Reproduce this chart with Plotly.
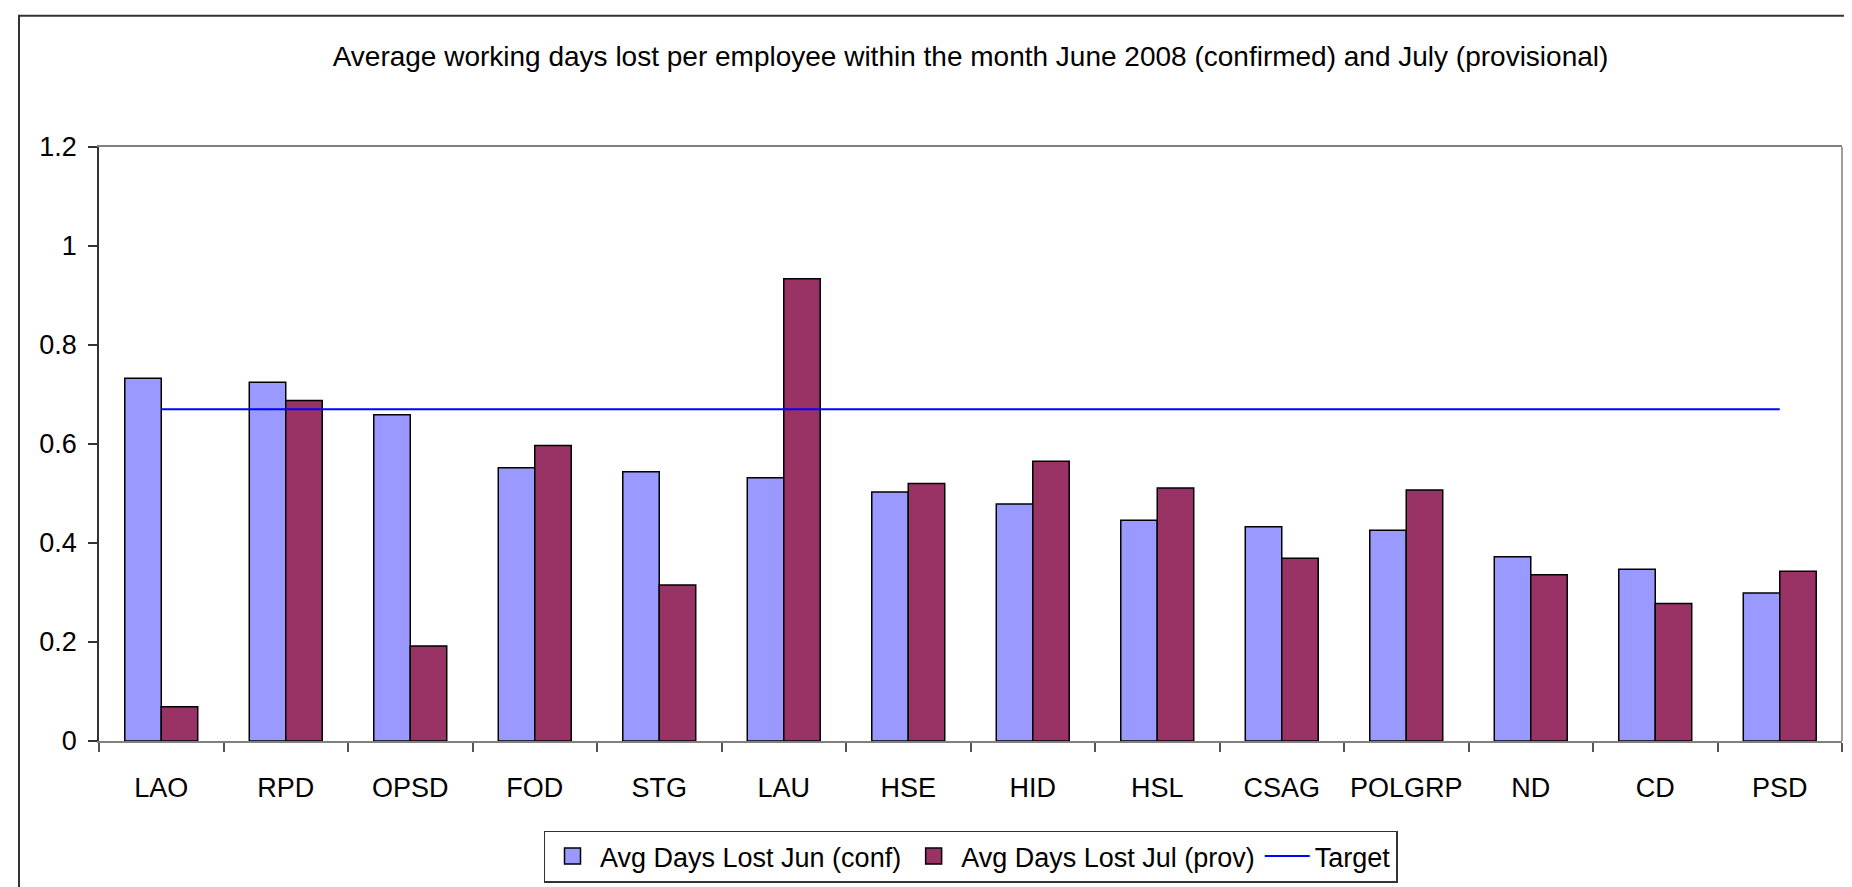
import plotly.graph_objects as go

categories = ["LAO", "RPD", "OPSD", "FOD", "STG", "LAU", "HSE", "HID", "HSL",
              "CSAG", "POLGRP", "ND", "CD", "PSD"]
jun_conf = [0.733, 0.725, 0.659, 0.552, 0.544, 0.532, 0.503, 0.479, 0.446,
            0.433, 0.426, 0.372, 0.347, 0.299]
jul_prov = [0.069, 0.688, 0.192, 0.597, 0.315, 0.934, 0.520, 0.565, 0.511,
            0.369, 0.507, 0.336, 0.278, 0.343]
target = [0.67, 0.67, 0.67, 0.67, 0.67, 0.67, 0.67, 0.67, 0.67,
          0.67, 0.67, 0.67, 0.67, 0.67]
y_ticks = [0, 0.2, 0.4, 0.6, 0.8, 1, 1.2]
y_tick_labels = ["0", "0.2", "0.4", "0.6", "0.8", "1", "1.2"]
series_names = ["Avg Days Lost Jun (conf)", "Avg Days Lost Jul (prov)", "Target"]
series_colors = ["#9999FF", "#993366", "#0000FF"]

FONT = "Liberation Sans, Arial, sans-serif"

fig = go.Figure()
fig.add_trace(go.Bar(
    x=categories, y=jun_conf, name=series_names[0], showlegend=False,
    legendgroup="jun",
    marker=dict(color=series_colors[0], line=dict(color="#000000", width=1.5)),
))
fig.add_trace(go.Bar(
    x=categories, y=jul_prov, name=series_names[1], showlegend=False,
    legendgroup="jul",
    marker=dict(color=series_colors[1], line=dict(color="#000000", width=1.5)),
))
# legend entries with larger rectangular swatches
for name, color, grp in [(series_names[0], series_colors[0], "jun"),
                         (series_names[1], series_colors[1], "jul")]:
    fig.add_trace(go.Scatter(
        x=[None], y=[None], mode="markers", name=name, legendgroup=grp,
        marker=dict(symbol="square", size=16, color=color,
                    line=dict(color="#000000", width=1.5)),
    ))
fig.add_trace(go.Scatter(
    x=categories, y=target, name=series_names[2], mode="lines",
    line=dict(color=series_colors[2], width=2),
))

W, H = 1852, 887
L, R, T, B = 91, 18, 139, 151
pw = W - L - R
ph = H - T - B

fig.update_layout(
    width=W, height=H,
    margin=dict(l=L, r=R, t=T, b=B),
    paper_bgcolor="white", plot_bgcolor="white",
    font=dict(family=FONT, size=27, color="black"),
    barmode="group", bargap=0.414, bargroupgap=0,
    title=dict(
        text="Average working days lost per employee within the month June 2008 (confirmed) and July (provisional)",
        x=0.5, xanchor="center", xref="paper",
        y=1 - 48 / H, yanchor="middle", yref="container",
        font=dict(family=FONT, size=28, color="black"),
    ),
    showlegend=True,
    legend=dict(
        orientation="h", x=0.5, xanchor="center",
        y=-(826 - (T + ph)) / ph, yanchor="top",
        bordercolor="#333333", borderwidth=1.5, bgcolor="white",
        font=dict(family=FONT, size=27, color="black"),
        traceorder="normal", itemwidth=45, itemsizing="trace",
    ),
    xaxis=dict(
        type="category", showgrid=False, showline=True, linecolor="#808080",
        linewidth=1.5, mirror=True, ticks="outside", tickson="boundaries",
        ticklen=9, tickcolor="#555555", tickwidth=1.5,
        ticklabelstandoff=22, tickfont=dict(family=FONT, size=27),
    ),
    yaxis=dict(
        range=[0, 1.2], tickvals=y_ticks, ticktext=y_tick_labels,
        showgrid=False, zeroline=False, showline=True, linecolor="#333333",
        linewidth=1.5, ticks="outside", ticklen=9, tickcolor="#333333",
        tickwidth=1.5, ticklabelstandoff=6, tickfont=dict(family=FONT, size=27),
    ),
)

# plot-area right border (grey) and outer chart frame
fig.add_shape(type="line", xref="paper", yref="paper", x0=1, x1=1, y0=0, y1=1,
              line=dict(color="#A0A0A0", width=2))
fig.add_shape(type="rect", xref="paper", yref="paper",
              x0=(11 - L) / pw, x1=(1850 - L) / pw,
              y0=-(H + 20 - (T + ph)) / ph, y1=((T + ph) - 7) / ph,
              line=dict(color="#333333", width=2), fillcolor="rgba(0,0,0,0)",
              layer="below")

fig.write_html("out.html")
